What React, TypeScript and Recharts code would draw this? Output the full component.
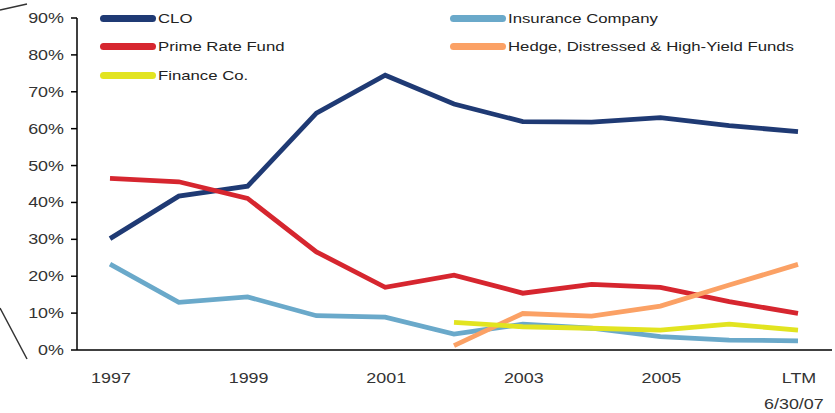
import React from 'react';
import { LineChart, Line, XAxis, YAxis, Legend } from 'recharts';

const years = ['1997', '1998', '1999', '2000', '2001', '2002', '2003', '2004', '2005', '2006', 'LTM'];
const clo = [30.2, 41.7, 44.4, 64.2, 74.5, 66.7, 61.9, 61.8, 63.0, 60.8, 59.2];
const primeRate = [46.5, 45.6, 41.1, 26.6, 17.0, 20.3, 15.4, 17.8, 17.0, 13.1, 9.9];
const insurance = [23.3, 12.9, 14.4, 9.3, 8.9, 4.3, 7.0, 5.9, 3.6, 2.7, 2.5];
const hedge = [null, null, null, null, null, 1.2, 9.9, 9.2, 11.9, 17.6, 23.2];
const financeCo = [null, null, null, null, null, 7.5, 6.3, 5.9, 5.4, 7.0, 5.4];
const yTicks = [0, 10, 20, 30, 40, 50, 60, 70, 80, 90];

const series = [
  { key: 'clo', name: 'CLO', color: '#1f3a74' },
  { key: 'insurance', name: 'Insurance Company', color: '#6aa9ca' },
  { key: 'prime', name: 'Prime Rate Fund', color: '#d6262f' },
  { key: 'hedge', name: 'Hedge, Distressed & High-Yield Funds', color: '#fba165' },
  { key: 'finance', name: 'Finance Co.', color: '#e2e420' },
];

const data = years.map((y, i) => ({
  year: y,
  clo: clo[i],
  prime: primeRate[i],
  insurance: insurance[i],
  hedge: hedge[i],
  finance: financeCo[i],
}));

const FONT = '"Liberation Sans", Arial, sans-serif';
const STRETCH = 1.28;

// source text looks horizontally stretched, so scale glyphs in x
const XTick = (props: any) => {
  const { x, payload } = props;
  const base = 383;
  const lines = payload.value === 'LTM' ? ['LTM', '6/30/07'] : [payload.value];
  return (
    <g transform={`translate(${x + 1},${base}) scale(${STRETCH},1)`}>
      {lines.map((t, i) => (
        <text key={t} x={i === 1 ? -4 : 0} y={i * 26} textAnchor="middle" fontFamily={FONT} fontSize={14} fill="#333">
          {t}
        </text>
      ))}
    </g>
  );
};

const YTick = (props: any) => {
  const { x, y, payload } = props;
  return (
    <g transform={`translate(${x},${y}) scale(${STRETCH},1)`}>
      <text x={0} y={0} dy="0.36em" textAnchor="end" fontFamily={FONT} fontSize={14} fill="#333">
        {`${payload.value}%`}
      </text>
    </g>
  );
};

const LegendBox = () => (
  <div style={{ display: 'grid', gridTemplateColumns: '350px auto', rowGap: 0, fontFamily: FONT }}>
    {series.map(s => (
      <div key={s.key} style={{ display: 'flex', alignItems: 'center', height: 28.5, whiteSpace: 'nowrap' }}>
        <span style={{ display: 'inline-block', width: 56, height: 7, borderRadius: 4, background: s.color, marginRight: 2 }} />
        <span style={{ fontSize: 13.5, color: '#222', display: 'inline-block', transform: 'scaleX(1.24)', transformOrigin: 'left center' }}>
          {s.name}
        </span>
      </div>
    ))}
  </div>
);

export default function App() {
  return (
    <div style={{ position: 'absolute', left: 0, top: 0, width: 835, height: 413, background: '#fff' }}>
      <svg width={835} height={413} style={{ position: 'absolute', left: 0, top: 0 }}>
        <line x1={0} y1={10} x2={27} y2={4} stroke="#333" strokeWidth={1.5} />
        <line x1={0} y1={308} x2={27} y2={359} stroke="#333" strokeWidth={1.5} />
      </svg>
      <LineChart width={835} height={413} data={data} margin={{ top: 18, right: 3, bottom: 0, left: 0 }}>
        <XAxis
          dataKey="year"
          interval={1}
          tickLine={false}
          axisLine={{ stroke: '#000', strokeWidth: 1.5 }}
          padding={{ left: 33, right: 34 }}
          height={63}
          tick={<XTick />}
        />
        <YAxis
          domain={[0, 90]}
          ticks={yTicks}
          width={77}
          tickSize={6}
          tickMargin={7}
          axisLine={{ stroke: '#000', strokeWidth: 1.5 }}
          tickLine={{ stroke: '#000', strokeWidth: 1.5 }}
          tick={<YTick />}
        />
        <Legend
          layout="horizontal"
          verticalAlign="middle"
          content={<LegendBox />}
          wrapperStyle={{ top: 4, left: 100, width: 720 }}
        />
        {series.map(s => (
          <Line
            key={s.key}
            dataKey={s.key}
            name={s.name}
            stroke={s.color}
            strokeWidth={4.8}
            dot={false}
            type="linear"
            isAnimationActive={false}
          />
        ))}
      </LineChart>
    </div>
  );
}
